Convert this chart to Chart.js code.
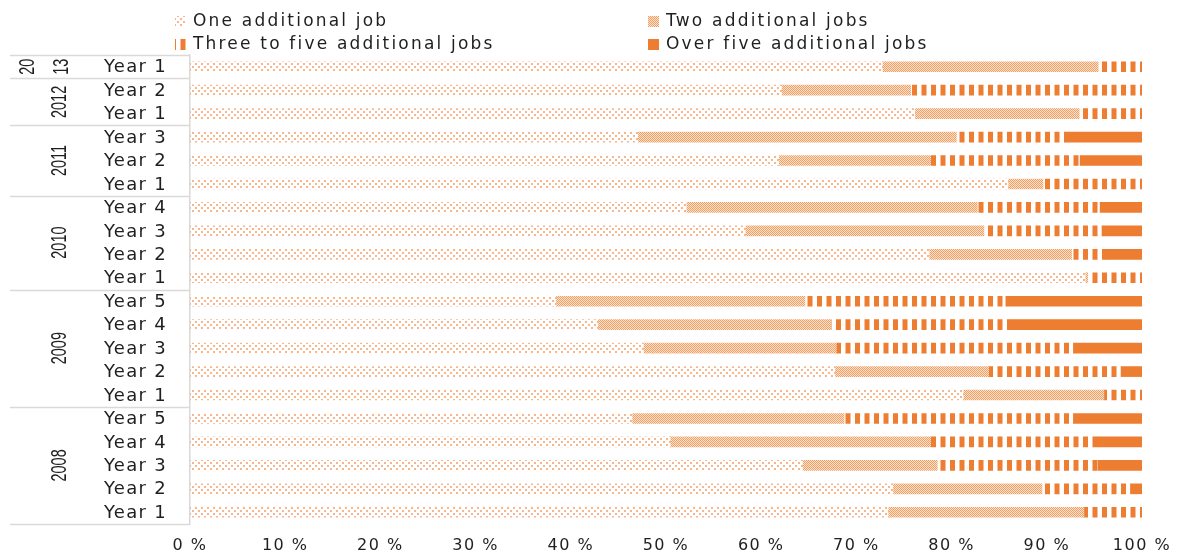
<!DOCTYPE html>
<html>
<head>
<meta charset="utf-8">
<script src="https://cdn.jsdelivr.net/npm/chart.js@4/dist/chart.umd.min.js"></script>
<style>
  body { margin: 0; background: #fff; }
  #wrap { width: 1177px; height: 552px; position: relative; }
</style>
</head>
<body>
<div id="wrap"><canvas id="jobsChart"></canvas></div>
<script>
// rows top to bottom
const yearLabels = ['Year 1', 'Year 2', 'Year 1', 'Year 3', 'Year 2', 'Year 1', 'Year 4', 'Year 3', 'Year 2', 'Year 1',
    'Year 5', 'Year 4', 'Year 3', 'Year 2', 'Year 1', 'Year 5', 'Year 4', 'Year 3', 'Year 2', 'Year 1'];
const cohorts = ['2013', '2012', '2011', '2010', '2009', '2008'];
const cohortSizes = [1, 2, 3, 4, 5, 5];

const oneJob = [72.8, 62.2, 76.2, 47.1, 61.9, 86.0, 52.2, 58.4, 77.7, 94.1, 38.5, 42.9, 47.7, 67.8, 81.3, 46.5, 50.5, 64.4, 73.9, 73.4];
const twoJobs = [22.6, 13.5, 17.2, 33.4, 15.9, 3.6, 30.5, 25.0, 14.9, 0.2, 26.1, 24.4, 20.2, 16.1, 14.7, 22.2, 27.3, 14.1, 15.6, 20.5];
const threeToFive = [4.6, 24.3, 6.6, 11.5, 15.7, 10.4, 12.9, 12.4, 3.6, 5.7, 21.1, 18.9, 24.9, 13.9, 4.0, 24.1, 17.5, 16.9, 9.3, 6.1];
const overFive = [0, 0, 0, 8.0, 6.5, 0, 4.4, 4.2, 3.8, 0, 14.3, 13.8, 7.2, 2.2, 0, 7.2, 4.7, 4.6, 1.2, 0];

const seriesNames = ['One additional job', 'Two additional jobs', 'Three to five additional jobs', 'Over five additional jobs'];
const xTickLabels = ['0 %', '10 %', '20 %', '30 %', '40 %', '50 %', '60 %', '70 %', '80 %', '90 %', '100 %'];

const ORANGE = '#ed7d31';
const TEXT = '#1f1f1f';

function makePattern(w, h, paint) {
    const c = document.createElement('canvas');
    c.width = w;
    c.height = h;
    const g = c.getContext('2d');
    paint(g);
    return g.createPattern(c, 'repeat');
}

// little dots, offset rows
const dotPattern = makePattern(6, 6, g => {
    g.fillStyle = '#f7b78c';
    g.fillRect(0, 0, 2, 2);
    g.fillRect(3, 3, 2, 2);
});
// fine checker
const checkPattern = makePattern(2, 2, g => {
    g.fillStyle = '#fde2ce';
    g.fillRect(0, 0, 2, 2);
    g.fillStyle = '#f29f66';
    g.fillRect(0, 0, 1, 1);
    g.fillRect(1, 1, 1, 1);
});
// vertical stripes
const stripePattern = makePattern(19, 4, g => {
    g.fillStyle = ORANGE;
    g.fillRect(0, 0, 5, 4);
    g.fillRect(9.5, 0, 5, 4);
});

const fills = [dotPattern, checkPattern, stripePattern, ORANGE];

// the original text is drawn wide, so space the axis letters out a bit
const wideTicks = {
    id: 'wideTicks',
    beforeDraw(chart) { chart.ctx.letterSpacing = '1.5px'; },
    beforeDatasetsDraw(chart) { chart.ctx.letterSpacing = '0px'; }
};

const sidePanel = {
    id: 'sidePanel',
    afterDraw(chart) {
        const ctx = chart.ctx;
        const y = chart.scales.y;
        const left = chart.chartArea.left;
        const n = yearLabels.length;
        const edge = i => {
            if (i === 0) return y.top;
            if (i === n) return y.bottom;
            return (y.getPixelForValue(i - 1) + y.getPixelForValue(i)) / 2;
        };

        ctx.save();
        // row labels
        ctx.font = '18px "DejaVu Sans"';
        ctx.letterSpacing = '1.3px';
        ctx.fillStyle = TEXT;
        ctx.textAlign = 'right';
        ctx.textBaseline = 'middle';
        yearLabels.forEach((lab, i) => ctx.fillText(lab, 167, y.getPixelForValue(i) + 1));
        ctx.letterSpacing = '0px';

        // group separators
        ctx.strokeStyle = '#d9d9d9';
        ctx.lineWidth = 1.5;
        let start = 0;
        const bounds = [0];
        cohortSizes.forEach(s => { start += s; bounds.push(start); });
        bounds.forEach(b => {
            const py = Math.round(edge(b)) + 0.5;
            ctx.beginPath();
            ctx.moveTo(10, py);
            ctx.lineTo(left, py);
            ctx.stroke();
        });

        // rotated cohort labels, squeezed along the text
        ctx.font = '17px "Liberation Sans"';
        ctx.textAlign = 'center';
        const drawUp = (txt, x, cy) => {
            ctx.save();
            ctx.translate(x, cy);
            ctx.rotate(-Math.PI / 2);
            ctx.scale(0.85, 1.25);
            ctx.fillText(txt, 0, 0);
            ctx.restore();
        };
        cohorts.forEach((c, k) => {
            const cy = (edge(bounds[k]) + edge(bounds[k + 1])) / 2;
            if (cohortSizes[k] === 1) {
                drawUp(c.slice(0, 2), 28, cy);
                drawUp(c.slice(2), 62, cy);
            } else {
                drawUp(c, 60, cy);
            }
        });

        // legend
        const spots = [[175, 22], [648, 22], [175, 45], [648, 45]];
        ctx.font = '17px "DejaVu Sans"';
        ctx.letterSpacing = '2.2px';
        ctx.textAlign = 'left';
        seriesNames.forEach((name, i) => {
            const [sx, sy] = spots[i];
            ctx.fillStyle = fills[i];
            ctx.fillRect(sx, sy - 6, 11, 11);
            ctx.fillStyle = TEXT;
            ctx.fillText(name, sx + 18, sy);
        });
        ctx.restore();
    }
};

new Chart(document.getElementById('jobsChart'), {
    type: 'bar',
    data: {
        labels: yearLabels,
        datasets: [oneJob, twoJobs, threeToFive, overFive].map((vals, i) => ({
            label: seriesNames[i],
            data: vals,
            backgroundColor: fills[i],
            borderWidth: 0,
            barThickness: 10
        }))
    },
    options: {
        indexAxis: 'y',
        responsive: true,
        maintainAspectRatio: false,
        animation: false,
        layout: { padding: { top: 55, left: 10, right: 35, bottom: 0 } },
        plugins: {
            legend: { display: false },
            tooltip: { enabled: false }
        },
        scales: {
            x: {
                stacked: true,
                min: 0,
                max: 100,
                grid: { display: false, drawTicks: false },
                border: { display: false },
                ticks: {
                    stepSize: 10,
                    padding: 12,
                    color: TEXT,
                    font: { family: '"DejaVu Sans"', size: 16 },
                    callback: (v, i) => xTickLabels[i]
                },
                afterFit: s => {
                    s.height = 28;
                    // the end labels may hang over the margins
                    s.paddingLeft = 0;
                    s.paddingRight = 0;
                }
            },
            y: {
                stacked: true,
                grid: { display: false, drawTicks: false },
                border: { display: true, color: '#d9d9d9', width: 1.5 },
                ticks: { display: false },
                afterFit: s => { s.width = 180; }
            }
        }
    },
    plugins: [wideTicks, sidePanel]
});
</script>
</body>
</html>
